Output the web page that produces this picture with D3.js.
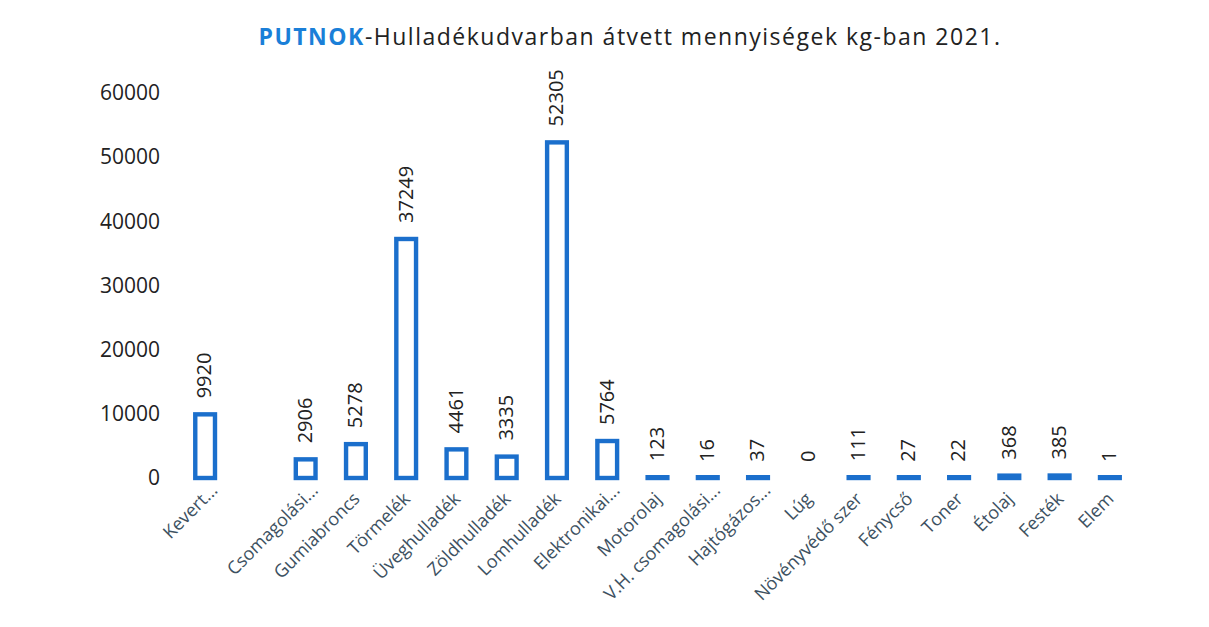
<!DOCTYPE html>
<html>
<head>
<meta charset="utf-8">
<script src="https://cdn.jsdelivr.net/npm/d3@7"></script>
<style>
  body{margin:0;background:#fff;}
  text{font-family:"Open Sans",sans-serif;}
</style>
</head>
<body>
<script>
var categories=["Kevert...","","Csomagolási...","Gumiabroncs","Törmelék","Üveghulladék","Zöldhulladék","Lomhulladék","Elektronikai...","Motorolaj","V.H. csomagolási...","Hajtógázos...","Lúg","Növényvédő szer","Fénycső","Toner","Étolaj","Festék","Elem"];
var values=[9920,null,2906,5278,37249,4461,3335,52305,5764,123,16,37,0,111,27,22,368,385,1];
var yTicks=[0,10000,20000,30000,40000,50000,60000];

var screenW=1209,screenH=627;
var blue="#1b6fcc";

var svg=d3.select("body").append("svg")
                .attr("width",screenW)
                .attr("height",screenH);

var x=d3.scaleBand()
            .domain(d3.range(categories.length))
            .range([180,1135])
            .paddingInner(0.52)
            .paddingOuter(0.26);

var y=d3.scaleLinear()
            .domain([0,60000])
            .range([478,93]);

//title
var title=svg.append("text")
                .attr("x",630)
                .attr("y",45)
                .attr("text-anchor","middle")
                .style("font-size","23px")
                .style("letter-spacing","1.5px");
title.append("tspan").text("PUTNOK").style("fill","#1a7fd8").style("font-weight","bold");
title.append("tspan").text("-Hulladékudvarban átvett mennyiségek kg-ban 2021.").style("fill","#222");

//y axis, labels only
var yAxis=svg.append("g")
                .attr("transform","translate(160,0)")
                .call(d3.axisLeft(y).tickValues(yTicks).tickFormat(d3.format("d")).tickSize(0).tickPadding(0));
yAxis.select(".domain").remove();
yAxis.selectAll("text")
        .style("font-size","21px")
        .style("font-family","'Open Sans',sans-serif")
        .style("fill","#222");

//bars
var data=values.map(function(v,i){return {i:i,v:v,name:categories[i]};});

svg.append("g").selectAll("rect")
        .data(data.filter(function(d){return d.v>0;}))
        .join("rect")
        .attr("x",function(d){return x(d.i)+2.2;})
        .attr("width",x.bandwidth()-4.4)
        .attr("y",function(d){return Math.min(y(d.v),y(0)-0.8);})
        .attr("height",function(d){return Math.max(y(0)-y(d.v),0.8);})
        .attr("fill","#fff")
        .attr("stroke",blue)
        .attr("stroke-width",4.4);

//value labels
svg.append("g").selectAll("text")
        .data(data.filter(function(d){return d.v!=null;}))
        .join("text")
        .attr("transform",function(d){
            return "translate("+(x(d.i)+x.bandwidth()/2+1)+","+(y(d.v)-16)+") rotate(-90)";
        })
        .attr("dominant-baseline","middle")
        .style("font-size","20px")
        .style("fill","#222")
        .text(function(d){return d.v;});

//category labels (truncated ones sit a bit further along)
svg.append("g").selectAll("text")
        .data(data)
        .join("text")
        .attr("transform",function(d){
            return "translate("+(x(d.i)+x.bandwidth()/2+5)+",500) rotate(-45)";
        })
        .attr("dx",function(d){return d.name.slice(-3)=="..."?12:0;})
        .attr("text-anchor","end")
        .style("font-size","18px")
        .style("fill","#3d5161")
        .text(function(d){return d.name;});
</script>
</body>
</html>
